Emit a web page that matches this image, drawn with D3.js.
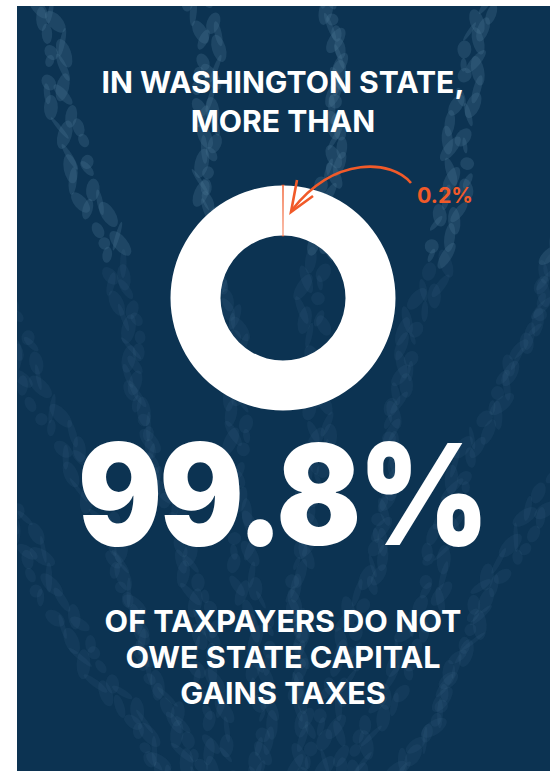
<!DOCTYPE html>
<html>
<head>
<meta charset="utf-8">
<script src="https://cdn.jsdelivr.net/npm/d3@7"></script>
<style>
  html, body { margin: 0; padding: 0; background: #ffffff; }
  #chart { width: 550px; height: 771px; }
  text { font-family: "Inter", "Open Sans", sans-serif; }
</style>
</head>
<body>
<div id="chart"></div>
<script>
// data
const shares = [
    { label: "owe", value: 0.2 },
    { label: "do not owe", value: 99.8 }
];
const titleLines = ["IN WASHINGTON STATE,", "MORE THAN"];
const bigNumber = "99.8%";
const footLines = ["OF TAXPAYERS DO NOT", "OWE STATE CAPITAL", "GAINS TAXES"];
const calloutLabel = "0.2%";

const width = 550;
const height = 771;
const navy = "#0c3352";
const orange = "#f15a29";

const svg = d3.select("#chart").append("svg")
    .attr("width", width)
    .attr("height", height)
    .attr("viewBox", `0 0 ${width} ${height}`);

// panel
svg.append("rect")
    .attr("x", 17)
    .attr("y", 6)
    .attr("width", width - 17)
    .attr("height", height - 6)
    .attr("fill", navy);

// ========= background strands (decoration only)
const clip = svg.append("clipPath").attr("id", "panelClip");
clip.append("rect").attr("x", 17).attr("y", 6).attr("width", width - 17).attr("height", height - 6);

const deco = svg.append("g").attr("clip-path", "url(#panelClip)");
const origin = [283, 1000];
const strandAngles = [-0.5, -0.36, -0.22, -0.08, 0.05, 0.19, 0.33, 0.47];
strandAngles.forEach((a, i) => {
    d3.range(0, 1.001, 0.008).forEach((t, k) => {
        const r = 200 + t * 950;
        const wob = Math.sin(t * 19 + i * 1.7) * 7 + Math.sin(t * 61 + i) * 4;
        const x = origin[0] + Math.sin(a) * r + wob + a * t * t * 120;
        const y = origin[1] - Math.cos(a) * r;
        const rx = 2 + Math.abs(Math.sin(k * 2.3 + i)) * 5;
        const ry = 6 + Math.abs(Math.cos(k * 1.7 + i * 0.6)) * 9;
        const op = y < 260 ? 0.3 : 0.12;
        deco.append("ellipse")
            .attr("cx", x + Math.sin(k * 3.1 + i) * 9)
            .attr("cy", y)
            .attr("rx", rx)
            .attr("ry", ry)
            .attr("transform", `rotate(${a * 57 + Math.sin(k * 1.9) * 30}, ${x}, ${y})`)
            .attr("fill", "#4a7393")
            .style("opacity", op);
    });
});

// ========= donut
const cx = 283, cy = 298;
const pie = d3.pie()
    .value(d => d.value)
    .sort(null)
    .startAngle(-Math.PI * 2 * 0.001)
    .endAngle(Math.PI * 2 * 0.999);

const arc = d3.arc()
    .innerRadius(62.5)
    .outerRadius(112.5);

const donut = svg.append("g")
    .attr("transform", `translate(${cx}, ${cy})`);

donut.selectAll("path")
    .data(pie(shares))
    .enter()
    .append("path")
    .attr("d", arc)
    .attr("fill", d => d.data.label === "owe" ? orange : "#ffffff")
    .attr("stroke", d => d.data.label === "owe" ? orange : "none")
    .attr("stroke-width", 1.6);

// ========= callout arrow
svg.append("path")
    .attr("d", "M411,183 C392,160 335,155 292,210")
    .attr("fill", "none")
    .attr("stroke", orange)
    .attr("stroke-width", 2.6);

svg.append("path")
    .attr("d", "M313,196 L291,212 L297,180")
    .attr("fill", "none")
    .attr("stroke", orange)
    .attr("stroke-width", 2.6)
    .attr("stroke-linejoin", "miter");

const callout = svg.append("text")
    .attr("x", 417)
    .attr("y", 203)
    .style("fill", orange)
    .style("font-size", "21px")
    .style("font-weight", "700")
    .text(calloutLabel);

// ========= texts
function fitText(sel, targetWidth) {
    const w = sel.node().getComputedTextLength();
    const fs = parseFloat(sel.style("font-size"));
    sel.style("font-size", (fs * targetWidth / w) + "px");
}
fitText(callout, 56);

const title = svg.append("g");
titleLines.forEach((t, i) => {
    title.append("text")
        .attr("x", cx)
        .attr("y", 93 + i * 38.5)
        .attr("text-anchor", "middle")
        .style("fill", "white")
        .style("font-size", "30px")
        .style("font-weight", "700")
        .text(t);
});
const titleFirst = title.select("text");
fitText(titleFirst, 363);
title.selectAll("text").style("font-size", titleFirst.style("font-size"));

// big number: fit width, then stretch upward to the reference cap height
const bigG = svg.append("g");
const big = bigG.append("text")
    .attr("x", 0)
    .attr("y", 0)
    .attr("text-anchor", "middle")
    .style("fill", "white")
    .style("font-size", "120px")
    .style("font-weight", "900")
    .style("letter-spacing", "-3px")
    .text(bigNumber);
fitText(big, 408);
const bigFs = parseFloat(big.style("font-size"));
const stretch = 140 / bigFs;
bigG.attr("transform", `translate(282, 545) scale(1, ${stretch})`);

const foot = svg.append("g");
footLines.forEach((t, i) => {
    foot.append("text")
        .attr("x", cx)
        .attr("y", 631.5 + i * 36)
        .attr("text-anchor", "middle")
        .style("fill", "white")
        .style("font-size", "29px")
        .style("font-weight", "700")
        .text(t);
});
const footFirst = foot.select("text");
fitText(footFirst, 357);
foot.selectAll("text").style("font-size", footFirst.style("font-size"));
</script>
</body>
</html>
